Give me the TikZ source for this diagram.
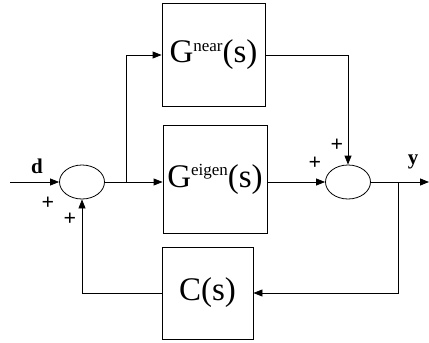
\documentclass[tikz,border=0pt]{standalone}
\usepackage{fontspec}
\setmainfont{Liberation Serif}
\newfontfamily\tms{Liberation Serif}
\usetikzlibrary{shapes.geometric,arrows.meta}
\begin{document}
\begin{tikzpicture}[x=1pt,y=-1pt, line width=0.8pt,
  >={Triangle[length=9pt,width=7pt]},
  sumnode/.style={draw, ellipse, minimum width=45pt, minimum height=34pt, inner sep=0pt},
  blk/.style={draw, rectangle, inner sep=0pt, font=\tms\fontsize{33}{36}\selectfont},
  sign/.style={font=\tms\fontsize{22}{22}\selectfont\bfseries, inner sep=0pt},
  sig/.style={font=\tms\fontsize{21}{21}\selectfont\bfseries, inner sep=0pt}]
\useasboundingbox (0,0) rectangle (429,343);
\node[sumnode] (s1) at (82,182) {};
\node[sumnode] (s2) at (348,182) {};
\node[blk, minimum width=103pt, minimum height=103pt] (gn) at (213.5,55)
  {G\raisebox{0.36em}{\fontsize{17}{17}\selectfont near}(s)};
\node[blk, minimum width=104pt, minimum height=108pt] (ge) at (215,179)
  {G\raisebox{0.36em}{\fontsize{17}{17}\selectfont eigen}(s)};
\node[blk, minimum width=91pt, minimum height=92pt] (cs) at (207.5,293) {C(s)};
\coordinate (in) at (10,182);
\coordinate (b1) at (126,182);
\coordinate (b2) at (398,182);
\coordinate (out) at (429,182);
\draw[->] (in) -- (s1.west);
\draw (s1.east) -- (b1);
\draw[->] (b1) -- (b1 -| ge.west);
\draw[->] (b1) |- (gn.west);
\draw[->] (gn.east) -| (s2.north);
\draw[->] (ge.east |- s2) -- (s2.west);
\draw[->] (s2.east) -- (out);
\draw[->] (b2) |- (cs.east);
\draw[->] (cs.west) -| (s1.south);
\node[sig] (ld) at (37,166) {d};
\node[sig] (ly) at (413,162) {y};
\node[sign] (p1) at (48,203) {+};
\node[sign] (p2) at (70,219) {+};
\node[sign] (p3) at (315,163) {+};
\node[sign] (p4) at (337,145) {+};
\end{tikzpicture}
\end{document}
